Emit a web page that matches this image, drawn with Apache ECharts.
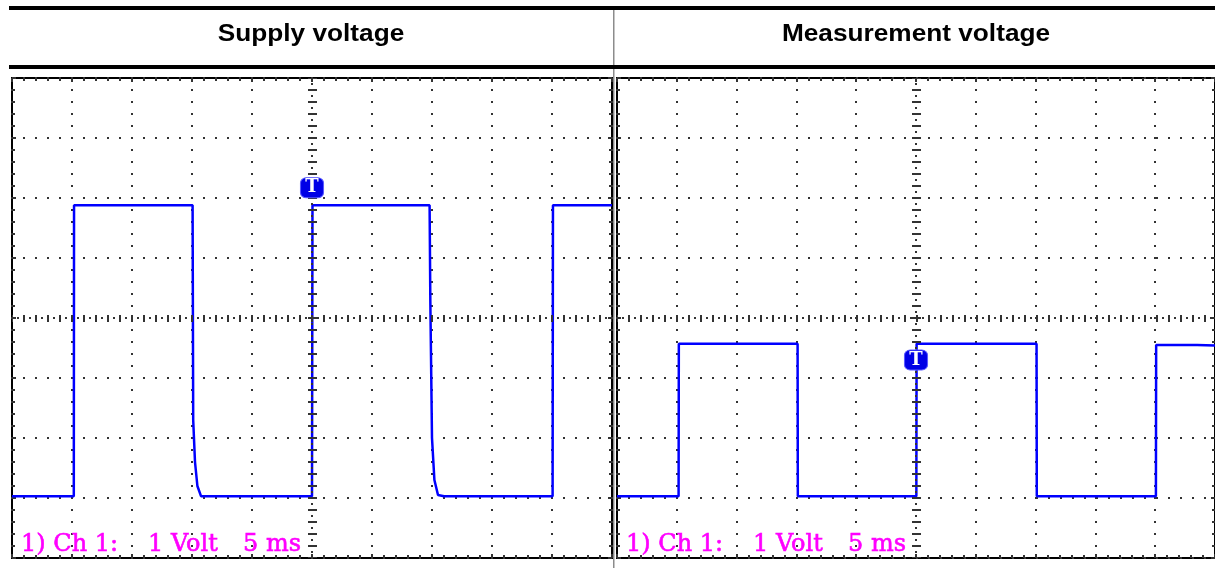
<!DOCTYPE html>
<html><head><meta charset="utf-8">
<script src="https://cdn.jsdelivr.net/npm/echarts@6/dist/echarts.min.js"></script>
<style>html,body{margin:0;padding:0;background:#fff}#c{width:1215px;height:568px}</style>
</head><body><div id="c"></div><script>
// Panel titles and oscilloscope scale captions
const panelTitles = ['Supply voltage', 'Measurement voltage'];
const scaleCaption = ['1) Ch 1:', '1 Volt', '5 ms'];
// Time axis: ms (5 ms / div), voltage axis: V (1 V / div)
const timeRange = [0, 50];
const voltRange = [-1, 7];
const triggerTime = 25;
const centerVolt = 3;
// Supply voltage trace
const supplyT = [0, 2, 2.1, 4, 5.15, 5.17, 6.0, 6.1, 7.5, 8.2, 8.3, 9.5, 11, 12.3, 12.4, 13.5, 15.05, 15.08, 15.1, 15.25, 15.45, 15.75, 17, 19, 19.1, 21, 23, 25.0, 25.04, 26.5, 26.6, 28, 30, 30.1, 32, 34.8, 34.83, 34.86, 35.0, 35.2, 35.5, 36, 38, 40, 40.1, 42, 45.05, 45.08, 47, 47.1, 50];
const supplyV = [0.03, 0.03, 0.06, 0.03, 0.03, 4.88, 4.88, 4.85, 4.88, 4.88, 4.85, 4.88, 4.88, 4.88, 4.85, 4.88, 4.88, 4.88, 1.3, 0.6, 0.2, 0.03, 0.03, 0.03, 0.06, 0.03, 0.03, 0.03, 4.88, 4.88, 4.85, 4.88, 4.88, 4.85, 4.88, 4.88, 4.88, 3.3, 1.0, 0.3, 0.05, 0.03, 0.03, 0.03, 0.06, 0.03, 0.03, 4.88, 4.88, 4.85, 4.88];
// Measurement voltage trace
const measT = [0, 2, 2.1, 4, 5.15, 5.17, 7, 9, 9.1, 11, 13, 15.1, 15.12, 17, 19, 19.1, 21, 23, 25.03, 25.05, 27, 29, 29.1, 31, 33, 35.08, 35.1, 37, 39, 39.1, 41, 43, 45.06, 45.08, 47, 48.5, 48.6, 50];
const measV = [0.03, 0.03, 0.06, 0.03, 0.03, 2.57, 2.57, 2.57, 2.54, 2.57, 2.57, 2.57, 0.03, 0.03, 0.03, 0.06, 0.03, 0.03, 0.03, 2.57, 2.57, 2.57, 2.54, 2.57, 2.57, 2.57, 0.03, 0.03, 0.03, 0.06, 0.03, 0.03, 0.03, 2.55, 2.55, 2.55, 2.52, 2.54];
// Trigger marker levels
const triggerLevel = [5.17, 2.3];

const pairs = (t, v) => t.map((x, i) => [x, v[i]]);
const DOT = '#333';
const grids = [
  {left: 12, top: 78, width: 600, height: 480},
  {left: 617, top: 78, width: 600, height: 480}
];
function xAx(g, pos, split) {
  return {type: 'value', gridIndex: g, position: pos, min: timeRange[0], max: timeRange[1], interval: 5,
    axisLine: {show: false, onZero: false}, axisLabel: {show: false},
    axisTick: {show: true, inside: true, length: 4, lineStyle: {color: DOT, width: 2}},
    minorTick: {show: true, splitNumber: 5, length: 3, lineStyle: {color: DOT, width: 2}},
    splitLine: {show: split, lineStyle: {color: DOT, width: 2, type: [2, 10], dashOffset: 1}}};
}
function yAx(g, pos, split) {
  return {type: 'value', gridIndex: g, position: pos, min: voltRange[0], max: voltRange[1], interval: 1,
    axisLine: {show: false, onZero: false}, axisLabel: {show: false},
    axisTick: {show: true, inside: true, length: 4, lineStyle: {color: DOT, width: 2}},
    minorTick: {show: true, splitNumber: 5, length: 3, lineStyle: {color: DOT, width: 2}},
    splitLine: {show: split, lineStyle: {color: DOT, width: 2, type: [2, 10], dashOffset: 1}}};
}
function guides(g) {
  return {type: 'line', xAxisIndex: g * 2, yAxisIndex: g * 2, data: [], z: 1, silent: true,
    markLine: {silent: true, symbol: ['none', 'none'], label: {show: false}, animation: false,
      data: [
        {xAxis: triggerTime, lineStyle: {color: DOT, width: 9, type: [2, 10], dashOffset: 1}},
        {xAxis: triggerTime, lineStyle: {color: DOT, width: 2, type: [2, 4], dashOffset: 1}},
        {yAxis: centerVolt, lineStyle: {color: DOT, width: 7, type: [2, 10], dashOffset: 1}},
        {yAxis: centerVolt, lineStyle: {color: DOT, width: 2, type: [2, 4], dashOffset: 1}}
      ]}};
}
function wave(g, data, lvl) {
  return {type: 'line', xAxisIndex: g * 2, yAxisIndex: g * 2, data: data, z: 3, showSymbol: false, silent: true,
    lineStyle: {color: '#0000ff', width: 2.5}, itemStyle: {color: '#0000ff'},
    markPoint: {silent: true, animation: false, symbol: 'roundRect', symbolSize: [23, 20],
      itemStyle: {color: '#0000e6', borderColor: '#5a5aff', borderWidth: 1},
      label: {show: true, position: 'inside', formatter: 'T', color: '#fff', fontFamily: 'DejaVu Serif', fontWeight: 'bold', fontSize: 18},
      data: [{coord: [triggerTime, lvl]}]}};
}
function caption(g) {
  const x0 = grids[g].left;
  const font = '24px "DejaVu Serif"';
  return [
    {type: 'text', x: x0 + 9, y: 545, z: 50, style: {text: scaleCaption[0], fill: '#ff00ff', stroke: '#ff00ff', lineWidth: 0.6, font: font, textVerticalAlign: 'middle'}},
    {type: 'text', x: x0 + 136, y: 545, z: 50, style: {text: scaleCaption[1], fill: '#ff00ff', stroke: '#ff00ff', lineWidth: 0.6, font: font, textVerticalAlign: 'middle'}},
    {type: 'text', x: x0 + 231, y: 545, z: 50, style: {text: scaleCaption[2], fill: '#ff00ff', stroke: '#ff00ff', lineWidth: 0.6, font: font, textVerticalAlign: 'middle'}}
  ];
}
const chart = echarts.init(document.getElementById('c'), null, {renderer: 'canvas'});
chart.setOption({
  animation: false,
  backgroundColor: '#fff',
  grid: grids.map(g => Object.assign({show: true, borderColor: '#000', borderWidth: 2, backgroundColor: '#fff'}, g)),
  xAxis: [xAx(0, 'bottom', true), xAx(0, 'top', false), xAx(1, 'bottom', true), xAx(1, 'top', false)],
  yAxis: [yAx(0, 'left', true), yAx(0, 'right', false), yAx(1, 'left', true), yAx(1, 'right', false)],
  series: [guides(0), wave(0, pairs(supplyT, supplyV), triggerLevel[0]), guides(1), wave(1, pairs(measT, measV), triggerLevel[1])],
  graphic: [
    {type: 'rect', shape: {x: 613, y: 8, width: 1.5, height: 560}, style: {fill: '#8c8c8c'}, z: 40},
    {type: 'rect', shape: {x: 9, y: 6, width: 1206, height: 4}, style: {fill: '#000'}, z: 41},
    {type: 'rect', shape: {x: 9, y: 65, width: 1206, height: 4}, style: {fill: '#000'}, z: 41},
    {type: 'text', x: 311, y: 35, scaleX: 1.14, z: 41, style: {text: panelTitles[0], fill: '#000', font: 'bold 23px "Liberation Sans"', textAlign: 'center', textVerticalAlign: 'middle'}},
    {type: 'text', x: 916, y: 35, scaleX: 1.14, z: 41, style: {text: panelTitles[1], fill: '#000', font: 'bold 23px "Liberation Sans"', textAlign: 'center', textVerticalAlign: 'middle'}}
  ].concat(caption(0), caption(1))
});
</script></body></html>
